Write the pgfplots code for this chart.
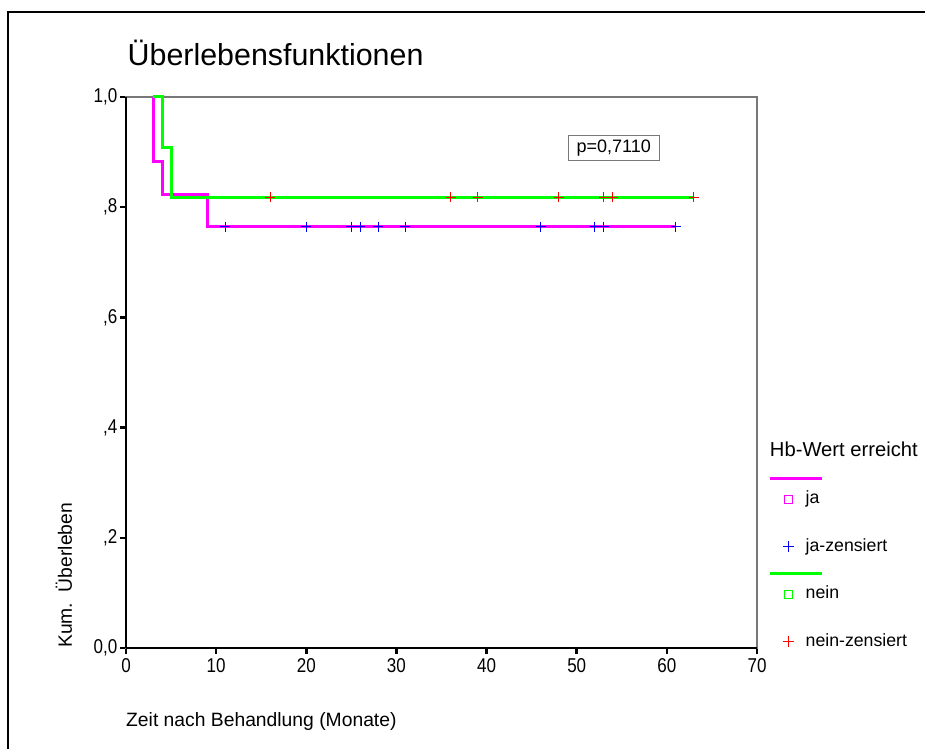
\documentclass[border=0pt]{standalone}
\usepackage{fontspec}
\setmainfont{Liberation Sans}
\newfontfamily\condfont{Liberation Sans}[FakeStretch=0.85]
\usepackage{pgfplots}
\pgfplotsset{compat=1.18}
\definecolor{kmmag}{RGB}{255,0,255}
\definecolor{kmgreen}{RGB}{0,255,0}
\definecolor{kmblue}{RGB}{0,0,255}
\definecolor{kmred}{RGB}{255,0,0}
\definecolor{axgray}{RGB}{120,120,120}
\begin{document}
\begin{tikzpicture}[x=1pt,y=1pt]
\useasboundingbox (0,0) rectangle (925,749);
\draw[line width=2.2pt] (8,0) -- (8,737) -- (925,737);
\node[anchor=base west, inner sep=0pt, font=\fontsize{30.4}{34}\selectfont] at (127.5,683) {Überlebensfunktionen};
\node[anchor=west, inner sep=0pt, font=\fontsize{19.3}{22}\selectfont] at (126,27) {Zeit nach Behandlung (Monate)};
\node[rotate=90, anchor=west, inner sep=0pt, font=\fontsize{19.3}{22}\selectfont] at (64,101) {Kum.\ \ Überleben};
\begin{axis}[
  at={(126pt,101pt)}, anchor=south west,
  scale only axis, width=631pt, height=551pt,
  xmin=0, xmax=70, ymin=0, ymax=1,
  axis line style={draw=axgray, line width=1.2pt},
  xtick={0,10,20,30,40,50,60,70},
  xticklabels={0,10,20,30,40,50,60,70},
  ytick={0,0.2,0.4,0.6,0.8,1},
  yticklabels={0{,}0,{,}2,{,}4,{,}6,{,}8,1{,}0},
  xtick pos=bottom, ytick pos=left,
  tick align=outside, major tick length=6pt,
  every tick/.style={black, line width=2.5pt},
  ticklabel style={font=\condfont\fontsize{20}{22}\selectfont},
  xticklabel style={inner sep=4pt},
  yticklabel style={inner sep=2.5pt},
  clip=false,
  legend style={
    at={(axis description cs:1.0407,0.3711)}, anchor=north west,
    draw=none, fill=none, inner sep=0pt, outer sep=0pt,
    legend cell align=left,
    column sep=12pt, row sep=30.4pt,
    nodes={inner sep=0pt, outer sep=0pt, text height=13pt, text depth=4pt},
    font=\fontsize{17.7}{20}\selectfont,
  },
]
\addplot[kmmag, line width=3pt, forget plot] coordinates {
  (3,1) (3,0.8824) (4,0.8824) (4,0.8235) (9,0.8235) (9,0.7647) (61,0.7647)};
\addplot[kmgreen, line width=3pt, forget plot] coordinates {
  (3,1) (4,1) (4,0.9091) (5,0.9091) (5,0.8182) (63,0.8182)};
\addplot[kmblue, only marks, mark=+, mark size=5pt, line width=0.9pt, forget plot] coordinates {
  (11,0.7647) (20,0.7647) (25,0.7647) (26,0.7647) (28,0.7647) (31,0.7647)
  (46,0.7647) (52,0.7647) (53,0.7647) (61,0.7647)};
\addplot[kmred, only marks, mark=+, mark size=5pt, line width=0.9pt, forget plot] coordinates {
  (16,0.8182) (36,0.8182) (39,0.8182) (48,0.8182) (53,0.8182) (54,0.8182) (63,0.8182)};
\draw[black, line width=1.2pt] (rel axis cs:0,0) -- (rel axis cs:0,1);
\draw[black, line width=1.2pt] (rel axis cs:0,0) -- (rel axis cs:1,0);
\node[draw=axgray, line width=1.2pt, fill=white, minimum width=91pt, minimum height=25pt, inner sep=0pt,
  font=\fontsize{18}{20}\selectfont] at (axis cs:54.1,0.908) {p=0,7110};
\addlegendimage{empty legend}
\addlegendentry{\hspace{-35.7pt}\fontsize{20.2}{22}\selectfont Hb-Wert erreicht}
\addlegendimage{legend image code/.code={
  \draw[overlay, kmmag, line width=3pt] (-17.7pt,21pt) -- (34pt,21pt);
  \draw[kmmag, line width=0.8pt, mark=square, mark size=4pt] plot coordinates {(0pt,0pt)};}}
\addlegendentry{ja}
\addlegendimage{legend image code/.code={
  \draw[kmblue, line width=0.9pt, mark=+, mark size=5.5pt] plot coordinates {(0pt,0pt)};}}
\addlegendentry{ja-zensiert}
\addlegendimage{legend image code/.code={
  \draw[overlay, kmgreen, line width=3pt] (-17.7pt,21pt) -- (34pt,21pt);
  \draw[kmgreen, line width=0.8pt, mark=square, mark size=4pt] plot coordinates {(0pt,0pt)};}}
\addlegendentry{nein}
\addlegendimage{legend image code/.code={
  \draw[kmred, line width=0.9pt, mark=+, mark size=5.5pt] plot coordinates {(0pt,0pt)};}}
\addlegendentry{nein-zensiert}
\end{axis}
\end{tikzpicture}
\end{document}
